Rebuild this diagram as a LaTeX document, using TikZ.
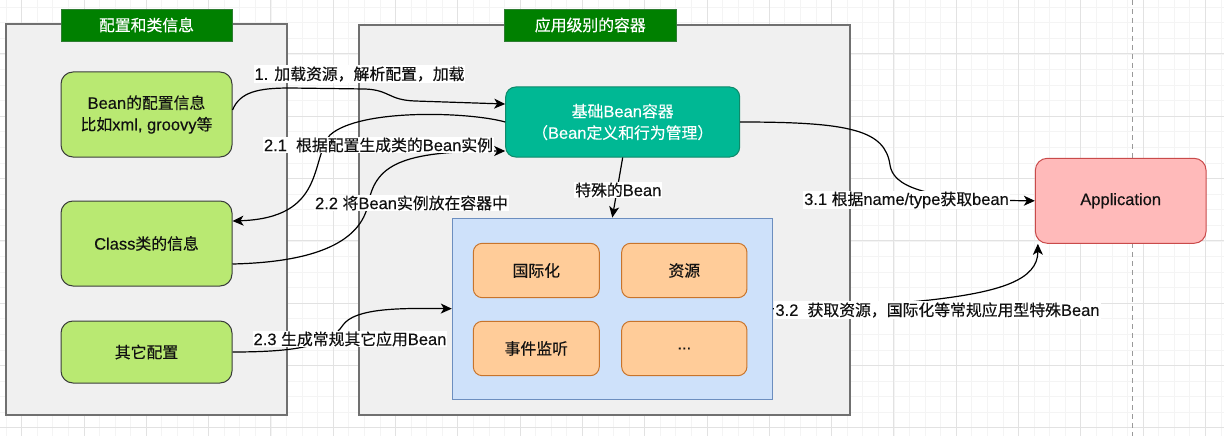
\documentclass[tikz,border=0pt]{standalone}
\usepackage{fontspec}
\setmainfont{Noto Sans CJK SC}[Scale=0.96,FakeBold=0.3]
\newfontfamily\lat{Liberation Sans}[FakeBold=0.3]
\usetikzlibrary{arrows.meta,calc}
\definecolor{gminor}{HTML}{F4F4F4}
\definecolor{gmajor}{HTML}{E2E2E2}
\definecolor{contfill}{HTML}{F0F0F0}
\definecolor{contline}{HTML}{707070}
\definecolor{titlefill}{HTML}{008000}
\definecolor{titleline}{HTML}{2E7D32}
\definecolor{limefill}{HTML}{B9E972}
\definecolor{limeline}{HTML}{3A3D3A}
\definecolor{tealfill}{HTML}{00B894}
\definecolor{tealline}{HTML}{0E8A6A}
\definecolor{bluefill}{HTML}{CEE1FA}
\definecolor{blueline}{HTML}{6C8EBF}
\definecolor{orfill}{HTML}{FFCC99}
\definecolor{orline}{HTML}{C8742B}
\definecolor{pinkfill}{HTML}{FFBABA}
\definecolor{pinkline}{HTML}{C94A4A}
\definecolor{txt}{HTML}{111111}
\begin{document}
\begin{tikzpicture}[x=1pt,y=-1pt,
  font=\fontsize{16.5}{21.5}\selectfont,
  container/.style={draw=contline,fill=contfill,line width=1.5pt,inner sep=0pt},
  titlebox/.style={draw=titleline,fill=titlefill,text=white,line width=0.8pt,inner sep=0pt,minimum width=171pt,minimum height=32pt},
  limebox/.style={draw=limeline,fill=limefill,text=txt,line width=1pt,rounded corners=12pt,align=center,inner sep=0pt,minimum width=171pt},
  tealbox/.style={draw=tealline,fill=tealfill,text=white,line width=1pt,rounded corners=10pt,align=center,inner sep=0pt},
  bluebox/.style={draw=blueline,fill=bluefill,line width=1pt,inner sep=0pt},
  orbox/.style={draw=orline,fill=orfill,text=txt,line width=1pt,rounded corners=9pt,inner sep=0pt,minimum height=54.4pt},
  pinkbox/.style={draw=pinkline,fill=pinkfill,text=txt,line width=1pt,rounded corners=12pt,inner sep=0pt},
  conn/.style={draw=black,line width=1.2pt,-{Stealth[length=11pt,width=10pt,inset=3pt]}},
  lbl/.style={fill=white,text=txt,inner sep=1pt}
]
\useasboundingbox (0,0) rectangle (1224,436);
\fill[white] (0,0) rectangle (1224,436);
% grid
\foreach \k in {0,...,79} {\draw[gminor,line width=0.8pt] ({-9.45+15.575*\k},0) -- ({-9.45+15.575*\k},436);}
\foreach \k in {0,...,28} {\draw[gminor,line width=0.8pt] (0,{-8.3+15.575*\k}) -- (1224,{-8.3+15.575*\k});}
\foreach \k in {0,...,19} {\draw[gmajor,line width=1pt] ({21.7+62.3*\k},0) -- ({21.7+62.3*\k},436);}
\foreach \k in {1,...,7} {\draw[gmajor,line width=1pt] (0,{-8.3+62.3*\k}) -- (1224,{-8.3+62.3*\k});}
\draw[color=black!40,line width=1pt,dash pattern=on 5pt off 4pt] (1132.3,0) -- (1132.3,436);

% containers
\node[container,minimum width=281pt,minimum height=391pt] (leftC) at (146.5,219.5) {};
\node[container,minimum width=491pt,minimum height=390pt] (rightC) at (604.5,220) {};
\node[titlebox] (t1) at (146.5,25) {配置和类信息};
\node[titlebox,minimum width=171.3pt] (t2) at (590.3,25) {应用级别的容器};

% left boxes
\node[limebox,minimum height=85pt] (bean) at (146.5,114.5) {{\lat Bean}的配置信息\\比如{\lat xml, groovy}等};
\node[limebox,minimum height=85pt] (class) at (146.5,243.5) {{\lat Class}类的信息};
\node[limebox,minimum height=62pt] (other) at (146.5,352) {其它配置};

% right container content
\node[tealbox,minimum width=234pt,minimum height=70pt] (bcont) at (622.7,122) {基础{\lat Bean}容器\\（{\lat Bean}定义和行为管理）};
\node[bluebox,minimum width=320pt,minimum height=181.3pt] (blue) at (612.3,308.7) {};
\node[orbox,minimum width=126pt] (o1) at (536.3,270.5) {国际化};
\node[orbox,minimum width=125.3pt] (o2) at (684.3,270.5) {资源};
\node[orbox,minimum width=126pt] (o3) at (536.3,348.5) {事件监听};
\node[orbox,minimum width=125.3pt] (o4) at (684.3,348.5) {\lat ...};

% application
\node[pinkbox,minimum width=170.7pt,minimum height=85pt] (app) at (1120.7,200.8) {\lat Application};

% connectors
\draw[conn] ($(bean.east)+(0,-4.5)$) .. controls (240,92) and (258,88) .. (290,88)
  -- (365,89) .. controls (390,90) and (388,100) .. (415,101) -- ($(bcont.west)+(0,-18)$);
\draw[conn] (bcont.west) .. controls (470,112) and (360,108) .. (330,135)
  .. controls (310,160) and (326,218) .. ($(class.east)+(0,-22.5)$);
\draw[conn] ($(class.east)+(0,20.5)$) .. controls (320,262) and (360,240) .. (368,205)
  .. controls (375,165) and (400,151) .. ($(bcont.west)+(0,29)$);
\draw[conn] (other.east) .. controls (300,352) and (330,345) .. (343,325)
  .. controls (355,308) and (400,308) .. (blue.west);
\draw[conn] (bcont.south) -- (blue.north);
\draw[conn] (bcont.east) .. controls (850,122) and (885,130) .. (890,165)
  .. controls (893,185) and (920,200) .. (app.west);
\draw[conn] (blue.east) .. controls (850,308) and (880,305) .. (930,300)
  .. controls (1000,292) and (1038,280) .. ($(app.south west)+(3,0)$);

% labels
\node[lbl] (l1) at (359.5,74) {{\lat 1. }加载资源，解析配置，加载};
\node[lbl] (l21) at (378.5,145) {{\lat 2.1\ \ }根据配置生成类的{\lat Bean}实例};
\node[lbl] (l22) at (411.5,203) {{\lat 2.2 }将{\lat Bean}实例放在容器中};
\node[lbl] (l23) at (350,339) {{\lat 2.3 }生成常规其它应用{\lat Bean}};
\node[lbl] (lsp) at (618.3,190) {特殊的{\lat Bean}};
\node[lbl] (l31) at (906.5,200) {{\lat 3.1 }根据{\lat name/type}获取{\lat bean}};
\node[lbl] (l32) at (937.5,310) {{\lat 3.2\ \ }获取资源，国际化等常规应用型特殊{\lat Bean}};
\end{tikzpicture}
\end{document}
